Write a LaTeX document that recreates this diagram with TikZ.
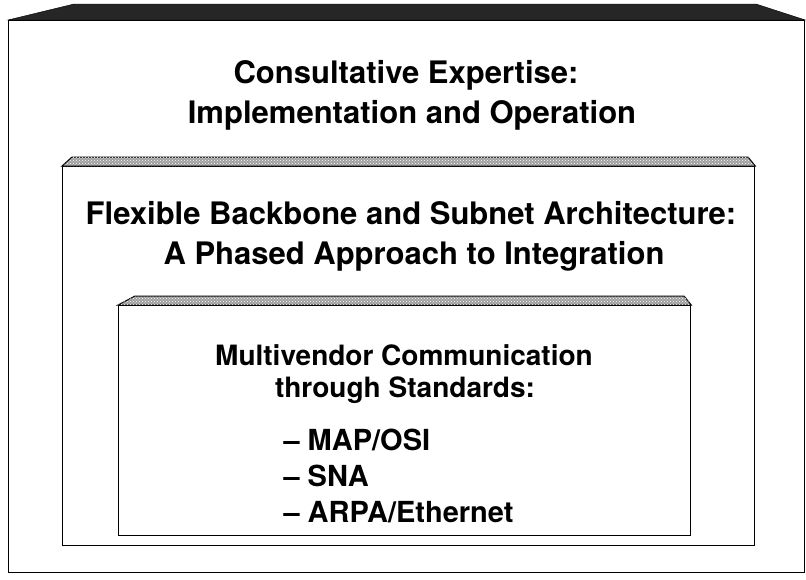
\documentclass[tikz,border=0pt]{standalone}
\usepackage{fontspec}
\setmainfont{TeX Gyre Heros}
\usetikzlibrary{positioning,patterns}

\tikzset{
  panel/.style={draw,line width=1.3pt,anchor=north west,inner sep=0pt},
  bigtxt/.style={font=\bfseries\fontsize{31}{34}\selectfont,anchor=center},
  smalltxt/.style={font=\bfseries\fontsize{28}{32}\selectfont,anchor=center},
  itemtxt/.style={font=\bfseries\fontsize{29}{32}\selectfont,anchor=west},
}

\begin{document}
\begin{tikzpicture}[x=1pt,y=-1pt]
      \useasboundingbox (0,0) rectangle (806,579);
      % the three nested boxes
      \node[panel,minimum width=796pt,minimum height=552pt] (outer) at (8,20) {};
      \node[panel,minimum width=692pt,minimum height=379pt] (middle) at (62,166) {};
      \node[panel,minimum width=572pt,minimum height=230pt] (inner) at (118,305) {};
      % top bands
      \fill[black!85,draw=black] (outer.north west) -- ++(66,-16) -- ++(682,0) -- (outer.north east) -- cycle;
      \filldraw[fill=gray!75,draw=black,line width=1pt] (middle.north west) -- ++(10,-9) -- ++(676,0) -- (middle.north east) -- cycle;
      \filldraw[fill=gray!75,draw=black,line width=1pt] (inner.north west) -- ++(17,-9) -- ++(549,0) -- (inner.north east) -- cycle;
      \fill[pattern=crosshatch dots,pattern color=white] (middle.north west) -- ++(10,-9) -- ++(676,0) -- (middle.north east) -- cycle;
      \fill[pattern=crosshatch dots,pattern color=white] (inner.north west) -- ++(17,-9) -- ++(549,0) -- (inner.north east) -- cycle;
      % texts
      \node[bigtxt] (cons) at (406,75) {Consultative Expertise:};
      \node[bigtxt] (impl) at (412,115) {Implementation and Operation};
      \node[bigtxt] (flex) at (411,213) {Flexible Backbone and Subnet Architecture:};
      \node[bigtxt] (phas) at (414,256) {A Phased Approach to Integration};
      \node[smalltxt] (mult) at (404,355) {Multivendor Communication};
      \node[smalltxt] (thru) at (405,390) {through Standards:};
      \node[itemtxt] (map) at (280,440) {\textendash{} MAP/OSI};
      \node[itemtxt] (sna) at (280,476) {\textendash{} SNA};
      \node[itemtxt] (arpa) at (280,512) {\textendash{} ARPA/Ethernet};
\end{tikzpicture}
\end{document}
